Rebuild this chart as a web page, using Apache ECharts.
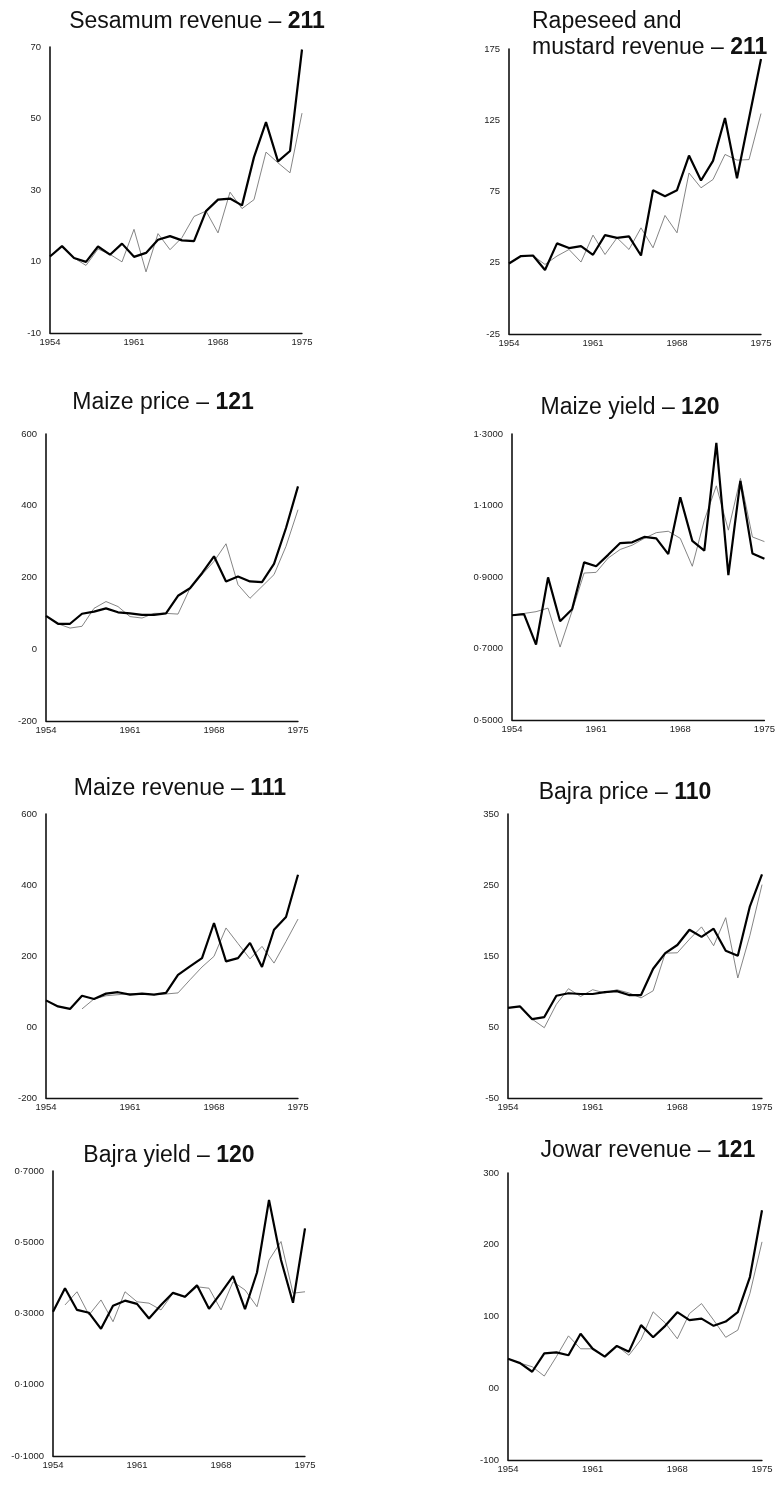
<!DOCTYPE html>
<html><head><meta charset="utf-8">
<script src="https://cdn.jsdelivr.net/npm/echarts@6/dist/echarts.min.js"></script>
<style>html,body{margin:0;padding:0;background:#fff}#c{width:778px;height:1485px}</style>
</head><body><div id="c"></div>
<script>
const years = ['1954','1955','1956','1957','1958','1959','1960','1961','1962','1963','1964','1965','1966','1967','1968','1969','1970','1971','1972','1973','1974','1975'];

const sesamumActual   = [11.4,14.3,11.0,9.9,14.2,11.9,15.0,11.3,12.4,16.1,17.1,15.9,15.7,24.1,27.3,27.6,25.7,39.2,49.0,38.0,40.9,69.3];
const sesamumFitted   = [11.4,14.3,11.0,8.9,13.5,12.0,9.9,19.0,7.1,17.8,13.3,16.7,22.6,24.1,18.0,29.4,24.8,27.3,40.6,37.6,34.8,51.5];
const rapeseedActual  = [24.5,29.7,30.1,19.9,38.6,35.3,36.7,30.6,44.4,42.5,43.5,30.1,75.9,71.7,75.9,100.2,82.7,96.5,126.6,84.3,126.2,168];
const rapeseedFitted  = [24.5,29.7,30.0,23.8,29.7,34.3,25.5,44.4,30.8,42.5,34.3,49.5,35.5,58.2,46.0,88.0,77.6,83.4,101,97,97.4,129.7];
const maizePriceActual= [93,71,71,99,105,114,103,100,96,96,100,149,170,212,259,189,203,189,187,238,338,454];
const maizePriceFitted= [93,71,59,64,114,133,119,91,87,100,100,98,170,208,245,294,180,142,175,208,287,389];
const maizeYieldActual= [0.793,0.796,0.711,0.899,0.776,0.810,0.941,0.930,0.962,0.995,0.997,1.012,1.008,0.964,1.123,1.001,0.974,1.275,0.905,1.169,0.966,0.951];
const maizeYieldFitted= [0.793,0.798,0.803,0.813,0.704,0.805,0.911,0.913,0.953,0.977,0.989,1.008,1.024,1.028,1.008,0.930,1.059,1.155,1.031,1.176,1.012,0.999];
const maizeRevActual  = [75,58,51,88,79,94,98,91,94,91,96,147,171,194,293,185,194,237,169,274,310,429];
const maizeRevFitted  = [null,null,null,51,79,88,91,94,94,91,93,96,133,169,199,279,235,192,227,180,241,304];
const bajraPriceActual= [77,79,61,64,94,97.5,96.5,96.5,99,100.5,95,95,132,154,165.5,187,177,188.5,157.5,150.5,220,265];
const bajraPriceFitted= [77,79,61,49,82,104,93,102.5,98,102.5,98,91,101,154,154.5,173.5,191,164.5,204,119,179,250.5];
const bajraYieldActual= [0.305,0.371,0.310,0.302,0.257,0.322,0.336,0.327,0.286,0.324,0.358,0.347,0.379,0.313,0.358,0.405,0.312,0.415,0.619,0.450,0.330,0.539];
const bajraYieldFitted= [null,0.324,0.361,0.296,0.338,0.277,0.361,0.333,0.329,0.310,0.357,0.345,0.375,0.371,0.310,0.389,0.366,0.319,0.450,0.502,0.357,0.361];
const jowarRevActual  = [41,35,23,48.5,50,46,76,55,44,59,51,88,71,87,106,95,97,87,93,106,155,248];
const jowarRevFitted  = [41,35,30,17,44,73,55,55,44,59,46,68,106.5,91,69,104,118,95,71,81,132,204];

const titles = [
  ['Sesamum revenue – ','211'],
  ['Rapeseed and\nmustard revenue – ','211'],
  ['Maize price – ','121'],
  ['Maize yield – ','120'],
  ['Maize revenue – ','111'],
  ['Bajra price – ','110'],
  ['Bajra yield – ','120'],
  ['Jowar revenue – ','121']
];
const yMin = [-10,-25,-200,0.5,-200,-50,-0.1,-100];
const yMax = [70,175,600,1.3,600,350,0.7,300];
const yStep = [20,50,200,0.2,200,100,0.2,100];
const yFmt = ['int','int','int','dec','int00','int','dec','int00'];

const actual = [sesamumActual,rapeseedActual,maizePriceActual,maizeYieldActual,maizeRevActual,bajraPriceActual,bajraYieldActual,jowarRevActual];
const fitted = [sesamumFitted,rapeseedFitted,maizePriceFitted,maizeYieldFitted,maizeRevFitted,bajraPriceFitted,bajraYieldFitted,jowarRevFitted];

// layout
const grids = [
  {left:50, top:47, width:252, height:286},
  {left:509,top:49, width:252, height:285},
  {left:46, top:434,width:252, height:287},
  {left:512,top:434,width:254, height:286},
  {left:46, top:814,width:252, height:284},
  {left:508,top:814,width:254, height:284},
  {left:53, top:1171,width:252,height:285},
  {left:508,top:1173,width:254,height:287}
];
const titlePos = [
  {left:192,top:4,align:'center'},
  {left:527,top:4,align:'left'},
  {left:158,top:385,align:'center'},
  {left:625,top:390,align:'center'},
  {left:175,top:771,align:'center'},
  {left:620,top:775,align:'center'},
  {left:164,top:1138,align:'center'},
  {left:643,top:1133,align:'center'}
];

const FF = '"Liberation Sans", Arial, sans-serif';
function fmt(kind){
  return function(v){
    if (kind==='dec'){
      const s = Math.abs(v).toFixed(4).replace('.', '·');
      return (v < -1e-9 ? '-' : '') + s;
    }
    const r = Math.round(v);
    if (kind==='int00' && r===0) return '00';
    return String(r);
  };
}

const option = {
  animation:false,
  backgroundColor:'#fff',
  title: titles.map((t,i)=>({
    text: '{a|'+t[0]+'}{b|'+t[1]+'}',
    left: titlePos[i].left, top: titlePos[i].top,
    textAlign: titlePos[i].align,
    textStyle:{
      fontWeight:'normal',
      rich:{
        a:{fontFamily:FF,fontSize:23,fontWeight:'normal',color:'#111',lineHeight:26},
        b:{fontFamily:FF,fontSize:23,fontWeight:'bold',color:'#111',lineHeight:26}
      }
    }
  })),
  grid: grids,
  xAxis: grids.map((g,i)=>({
    type:'category', gridIndex:i, data:years, boundaryGap:false,
    axisLine:{onZero:false, lineStyle:{color:'#111',width:1.3}},
    axisTick:{show:false},
    axisLabel:{interval:6, color:'#222', fontSize:9.5, fontFamily:FF, margin:4},
    splitLine:{show:false}
  })),
  yAxis: grids.map((g,i)=>({
    type:'value', gridIndex:i, min:yMin[i], max:yMax[i], interval:yStep[i],
    axisLine:{show:true, onZero:false, lineStyle:{color:'#111',width:1.6}},
    axisTick:{show:false},
    axisLabel:{color:'#222', fontSize:9.5, fontFamily:FF, margin:9, formatter: fmt(yFmt[i])},
    splitLine:{show:false}
  })),
  series: []
};
for (let i=0;i<8;i++){
  option.series.push({
    type:'line', xAxisIndex:i, yAxisIndex:i, data:fitted[i],
    showSymbol:false, symbol:'none', connectNulls:false,
    lineStyle:{color:'#777', width:0.9}, z:2
  });
  option.series.push({
    type:'line', xAxisIndex:i, yAxisIndex:i, data:actual[i],
    showSymbol:false, symbol:'none',
    lineStyle:{color:'#000', width:2.2}, z:3
  });
}
const chart = echarts.init(document.getElementById('c'), null, {renderer:'canvas'});
chart.setOption(option);
</script>
</body></html>
